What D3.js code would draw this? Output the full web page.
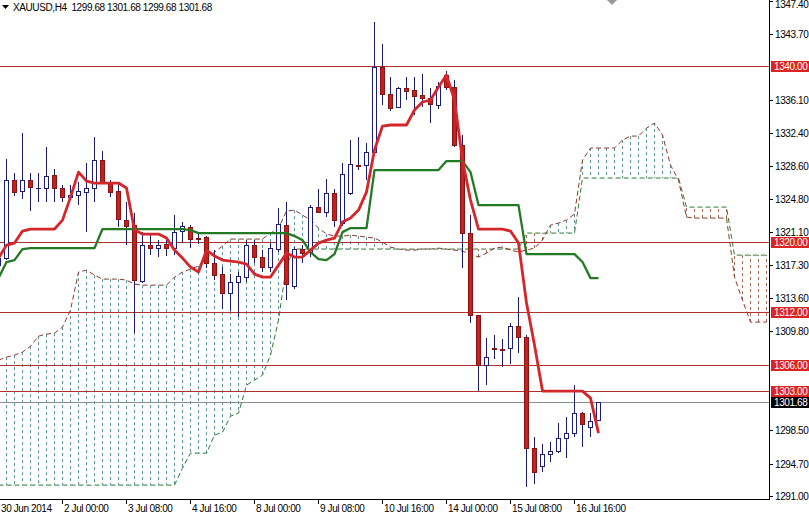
<!DOCTYPE html>
<html><head><meta charset="utf-8">
<script src="https://cdn.jsdelivr.net/npm/d3@7"></script>
<style>
html,body{margin:0;padding:0;background:#fff;overflow:hidden}
svg{display:block}
text{font-family:"Liberation Sans",Arial,sans-serif;font-size:10px;letter-spacing:-0.4px}
</style></head><body><svg id="c" width="809" height="514"></svg>
<script>
const symbolTitle = "XAUUSD,H4  1299.68 1301.68 1299.68 1301.68";
const firstBar = -1;
const opens  = [1317.32,1318.12,1327.01,1325.76,1327.01,1326.10,1326.10,1327.58,1326.10,1325.07,1325.30,1325.64,1326.10,1329.29,1326.67,1325.76,1322.45,1321.88,1315.50,1319.60,1319.26,1319.72,1319.26,1321.20,1321.65,1320.40,1320.51,1317.55,1316.30,1314.13,1315.39,1315.96,1319.60,1318.24,1317.10,1319.15,1321.88,1314.93,1319.15,1318.81,1323.93,1323.36,1325.53,1322.11,1325.53,1328.72,1328.72,1330.20,1339.89,1336.81,1335.33,1337.49,1337.27,1336.70,1336.35,1335.56,1338.97,1337.61,1331.00,1320.97,1311.63,1305.93,1307.87,1307.75,1307.87,1310.37,1309.12,1296.47,1294.42,1295.79,1296.13,1297.61,1298.18,1300.46,1298.86,1299.68];
const highs  = [1319.03,1329.40,1327.81,1332.37,1327.81,1327.81,1330.77,1328.26,1326.44,1326.44,1326.78,1328.95,1331.91,1330.31,1327.01,1326.67,1324.50,1323.25,1321.08,1320.97,1320.17,1320.17,1323.02,1322.22,1321.88,1321.08,1320.63,1319.03,1317.10,1316.30,1316.53,1320.17,1320.17,1319.03,1319.83,1323.82,1324.50,1319.38,1319.60,1324.16,1325.98,1327.12,1325.98,1328.95,1331.57,1331.91,1331.23,1345.01,1342.51,1338.75,1337.61,1338.75,1338.75,1339.09,1337.49,1338.18,1339.43,1338.40,1332.14,1323.02,1311.63,1309.01,1309.35,1308.89,1310.71,1313.68,1309.35,1297.72,1296.93,1297.15,1299.32,1300.00,1303.65,1300.57,1300.46,1301.68];
const lows   = [1313.68,1317.90,1325.19,1324.84,1323.48,1324.50,1324.50,1324.50,1324.50,1324.96,1324.16,1321.08,1324.50,1326.67,1325.07,1321.65,1319.60,1309.57,1315.27,1318.46,1318.24,1318.35,1318.46,1319.83,1319.26,1319.72,1316.98,1315.61,1312.31,1312.08,1311.40,1315.39,1317.55,1316.53,1316.53,1318.81,1313.33,1314.59,1317.55,1318.24,1323.36,1322.79,1321.65,1321.77,1325.30,1328.15,1327.01,1329.86,1335.56,1334.87,1335.21,1336.13,1334.42,1335.33,1333.50,1335.10,1337.27,1330.77,1316.98,1310.71,1302.97,1303.65,1306.61,1305.70,1306.04,1307.30,1292.03,1292.37,1293.74,1294.88,1295.90,1295.33,1297.72,1296.58,1297.72,1299.68];
const closes = [1318.12,1327.01,1325.64,1327.01,1326.21,1326.15,1327.47,1326.10,1325.07,1325.30,1325.76,1326.10,1329.29,1326.67,1325.64,1322.57,1321.77,1315.61,1319.60,1319.26,1319.60,1319.26,1321.08,1321.77,1320.29,1320.35,1317.55,1316.18,1314.13,1315.39,1316.07,1319.60,1318.24,1317.10,1319.26,1322.00,1315.16,1319.15,1318.69,1323.93,1323.36,1325.53,1322.45,1327.69,1328.83,1328.66,1330.20,1339.89,1336.81,1335.21,1337.49,1337.15,1336.58,1336.35,1335.67,1337.72,1337.61,1331.00,1320.97,1311.63,1305.93,1306.84,1307.82,1307.70,1310.37,1309.12,1296.47,1293.74,1295.79,1296.13,1297.61,1298.18,1300.46,1299.21,1299.55,1301.68];
const tenkan = [1318.12,1319.60,1319.83,1321.20,1321.43,1321.43,1321.43,1321.43,1322.45,1325.07,1327.92,1326.90,1326.67,1326.67,1326.67,1326.67,1326.10,1321.31,1320.86,1320.86,1320.86,1320.40,1319.03,1318.12,1317.10,1316.53,1319.03,1318.35,1317.89,1317.78,1317.67,1317.44,1316.30,1315.96,1315.96,1317.32,1318.69,1318.24,1318.24,1319.03,1319.83,1320.17,1320.40,1322.22,1322.68,1323.59,1325.64,1330.43,1333.16,1333.28,1333.28,1333.28,1334.99,1335.90,1336.13,1337.61,1338.97,1336.13,1329.29,1324.73,1321.43,1321.43,1321.43,1321.43,1321.20,1319.83,1313.00,1308.21,1302.97,1302.97,1302.97,1302.97,1302.97,1302.97,1302.17,1298.18];
const kijun  = [1315.84,1317.67,1317.89,1319.15,1319.26,1319.26,1319.26,1319.26,1319.26,1319.26,1319.26,1319.26,1319.26,1321.43,1321.43,1321.43,1321.43,1321.43,1321.43,1321.43,1321.43,1321.43,1321.43,1321.43,1321.31,1320.97,1320.97,1320.97,1320.97,1320.97,1320.97,1320.97,1320.97,1320.97,1320.97,1320.97,1320.97,1320.63,1320.17,1318.81,1318.01,1317.89,1318.58,1321.08,1321.54,1321.54,1321.54,1328.15,1328.15,1328.15,1328.15,1328.15,1328.15,1328.15,1328.15,1328.15,1329.17,1329.17,1329.17,1327.92,1324.16,1324.16,1324.16,1324.16,1324.16,1324.16,1318.58,1318.58,1318.58,1318.58,1318.58,1318.58,1318.58,1317.67,1315.84,1315.84];
const spanA  = [1306.50,1306.84,1307.07,1307.41,1308.09,1309.23,1309.46,1309.57,1310.26,1312.20,1316.53,1316.75,1316.18,1315.73,1315.73,1315.73,1315.61,1315.16,1315.04,1315.04,1315.04,1315.04,1315.96,1316.53,1316.87,1317.21,1318.12,1318.81,1319.49,1320.29,1320.29,1320.29,1320.29,1320.29,1320.97,1321.54,1323.48,1323.59,1323.02,1322.45,1321.54,1320.86,1320.63,1320.63,1320.74,1320.63,1320.51,1320.40,1319.94,1319.38,1319.15,1319.03,1319.03,1319.15,1319.15,1319.26,1319.15,1319.03,1318.92,1318.58,1318.24,1318.69,1319.26,1319.38,1319.03,1318.81,1319.03,1319.26,1320.17,1321.88,1322.11,1322.45,1323.14,1329.29,1330.66,1330.66,1330.66,1330.66,1331.57,1332.02,1332.02,1332.93,1333.50,1332.14,1328.72,1327.01,1322.79,1322.68,1322.68,1322.68,1322.68,1322.68,1315.96,1313.33,1310.83,1310.83,1310.83];
const spanB  = [1292.26,1292.26,1292.26,1292.26,1292.26,1292.26,1292.26,1292.26,1292.26,1292.26,1292.26,1292.26,1292.26,1292.26,1292.26,1292.26,1292.26,1292.26,1292.26,1292.26,1292.26,1292.26,1292.26,1294.19,1295.90,1295.90,1295.90,1297.95,1298.29,1300.11,1300.46,1303.65,1304.22,1304.79,1307.07,1311.06,1317.32,1319.15,1319.15,1319.15,1319.15,1319.15,1319.15,1319.15,1319.15,1319.15,1319.15,1319.15,1319.15,1319.15,1319.15,1319.15,1319.15,1319.15,1319.15,1319.15,1319.15,1319.15,1319.15,1319.15,1319.15,1319.15,1319.15,1319.15,1319.15,1319.15,1320.97,1320.97,1320.97,1320.97,1320.97,1320.97,1320.97,1327.24,1327.24,1327.24,1327.24,1327.24,1327.24,1327.24,1327.24,1327.24,1327.24,1327.24,1327.24,1327.24,1323.93,1323.93,1323.93,1323.93,1323.93,1323.93,1318.46,1318.46,1318.46,1318.46,1318.46];
const priceTicks = [1347.40,1343.70,1336.10,1332.40,1328.60,1324.80,1321.10,1317.30,1313.60,1309.80,1298.50,1294.70,1291.00];
const levelLines = [1340.00,1320.00,1312.00,1306.00,1303.00];
const lastPrice = 1301.68;
const timeTickBars = [-1,7,15,23,31,39,47,55,63,71];
const timeTickLabels = ["30 Jun 2014","2 Jul 00:00","3 Jul 08:00","4 Jul 16:00","8 Jul 00:00","9 Jul 08:00","10 Jul 16:00","14 Jul 00:00","15 Jul 08:00","16 Jul 16:00"];

const W = 809, H = 514, plotR = 769, plotB = 499;
const svg = d3.select("#c");
const x = d3.scaleLinear().domain([-1, 95]).range([-2, 766]);
const y = d3.scaleLinear().domain([1290.68, 1347.52]).range([plotB, 0]);

svg.append("defs").append("clipPath").attr("id","plot")
  .append("rect").attr("x",0).attr("y",0).attr("width",plotR).attr("height",plotB);
const g = svg.append("g").attr("clip-path","url(#plot)");

// cloud
const cloud = spanA.map((a,i)=>({k:firstBar+i, a, b:spanB[i]}));
g.append("g").selectAll("line").data(cloud).join("line")
  .attr("x1",d=>x(d.k)+0.5).attr("x2",d=>x(d.k)+0.5)
  .attr("y1",d=>y(d.a)).attr("y2",d=>y(d.b))
  .attr("stroke",d=>d.a>=d.b?"#5a96a0":"#a4664e")
  .attr("stroke-width",1).attr("stroke-dasharray","3,3");
const stepLine = key => d3.line().x(d=>x(d.k)+0.5).y(d=>y(d[key]));
g.append("path").datum(cloud).attr("d",stepLine("b")).attr("fill","none")
  .attr("stroke","#2f7a34").attr("stroke-width",1).attr("stroke-dasharray","5,3");
g.append("path").datum(cloud).attr("d",stepLine("a")).attr("fill","none")
  .attr("stroke","#8e3b2c").attr("stroke-width",1).attr("stroke-dasharray","5,3");

// level lines
g.selectAll("line.lvl").data(levelLines).join("line").attr("class","lvl")
  .attr("x1",0).attr("x2",plotR).attr("y1",d=>Math.round(y(d))+0.5).attr("y2",d=>Math.round(y(d))+0.5)
  .attr("stroke","#b3302c").attr("stroke-width",1);
g.append("line").attr("x1",0).attr("x2",plotR)
  .attr("y1",Math.round(y(lastPrice))+0.5).attr("y2",Math.round(y(lastPrice))+0.5)
  .attr("stroke","#8c8c8c").attr("stroke-width",1);

// candles
const bars = opens.map((o,i)=>({k:firstBar+i, o, h:highs[i], l:lows[i], c:closes[i]}));
const cg = g.append("g");
cg.selectAll("line").data(bars).join("line")
  .attr("x1",d=>x(d.k)+0.5).attr("x2",d=>x(d.k)+0.5)
  .attr("y1",d=>Math.round(y(d.h))).attr("y2",d=>Math.round(y(d.l)))
  .attr("stroke","#1c1c6a").attr("stroke-width",1);
cg.selectAll("rect").data(bars).join("rect")
  .attr("x",d=>x(d.k)-1.5)
  .attr("y",d=>Math.round(y(Math.max(d.o,d.c)))+0.5)
  .attr("width",4)
  .attr("height",d=>Math.max(0.01,Math.round(y(Math.min(d.o,d.c)))-Math.round(y(Math.max(d.o,d.c)))))
  .attr("fill",d=>d.c>=d.o?"#ffffff":"#c3201f")
  .attr("stroke",d=>d.c>=d.o?"#1c1c7a":"#8a1414").attr("stroke-width",1);

// tenkan / kijun
const lineData = arr => arr.map((v,i)=>({k:firstBar+i, v}));
const ln = d3.line().x(d=>x(d.k)+0.5).y(d=>y(d.v));
g.append("path").datum(lineData(kijun)).attr("d",ln).attr("fill","none")
  .attr("stroke","#237a25").attr("stroke-width",2.3).attr("stroke-linejoin","round");
g.append("path").datum(lineData(tenkan)).attr("d",ln).attr("fill","none")
  .attr("stroke","#d5262b").attr("stroke-width",2.8).attr("stroke-linejoin","round");

// axes frame
svg.append("line").attr("x1",plotR+0.5).attr("x2",plotR+0.5).attr("y1",0).attr("y2",plotB+1).attr("stroke","#000");
svg.append("line").attr("x1",0).attr("x2",plotR+1).attr("y1",plotB+0.5).attr("y2",plotB+0.5).attr("stroke","#000");

// price axis
const pa = svg.append("g");
pa.selectAll("line").data(priceTicks).join("line")
  .attr("x1",plotR).attr("x2",plotR+4).attr("y1",d=>Math.round(y(d))+0.5).attr("y2",d=>Math.round(y(d))+0.5)
  .attr("stroke","#000");
pa.selectAll("text").data(priceTicks).join("text")
  .attr("x",plotR+6).attr("y",d=>Math.max(8, y(d)+4)).attr("fill","#000").text(d=>d.toFixed(2));

// level labels
const lab = svg.append("g");
const labData = levelLines.map(v=>({v, fill:"#dc2323"})).concat([{v:lastPrice, fill:"#000"}]);
lab.selectAll("rect").data(labData).join("rect")
  .attr("x",plotR+2).attr("y",d=>Math.round(y(d.v))-5).attr("width",W-plotR-2).attr("height",11)
  .attr("fill",d=>d.fill);
lab.selectAll("text").data(labData).join("text")
  .attr("x",plotR+5).attr("y",d=>Math.round(y(d.v))+4).attr("fill","#fff").text(d=>d.v.toFixed(2));

// time axis
const ta = svg.append("g");
ta.selectAll("line").data(timeTickBars).join("line")
  .attr("x1",d=>x(d)+0.5).attr("x2",d=>x(d)+0.5).attr("y1",plotB).attr("y2",plotB+5).attr("stroke","#000");
ta.selectAll("text").data(timeTickBars).join("text")
  .attr("x",d=>Math.max(1, x(d)+2)).attr("y",plotB+13).attr("fill","#000").text((d,i)=>timeTickLabels[i]);

// title
svg.append("path").attr("d","M2,5 L9,5 L5.5,9 Z").attr("fill","#000");
svg.append("text").attr("x",13).attr("y",11).attr("fill","#000").attr("xml:space","preserve")
  .style("white-space","pre").text(symbolTitle);
// chart shift marker
svg.append("path").attr("d","M607,0 L617,0 L612,5 Z").attr("fill","#9a9a9a");
</script></body></html>
